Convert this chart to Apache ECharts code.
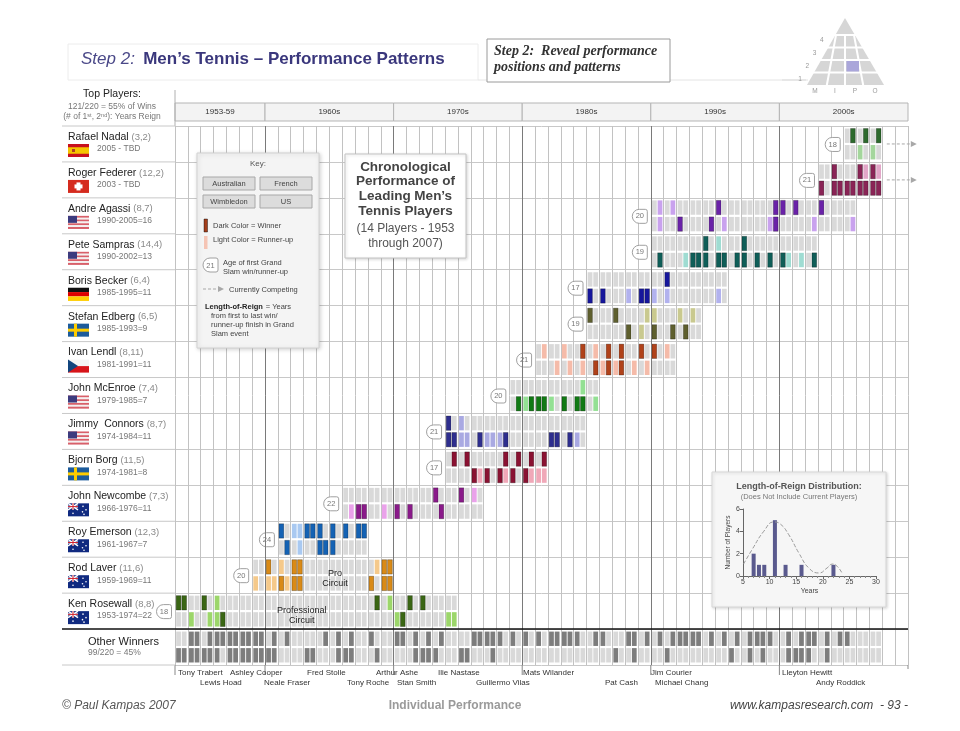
<!DOCTYPE html>
<html>
<head>
<meta charset="utf-8">
<script src="https://cdn.jsdelivr.net/npm/echarts@6/dist/echarts.min.js"></script>
<style>
html, body { margin: 0; padding: 0; background: #fff; }
#chart { width: 960px; height: 731px; }
</style>
</head>
<body>
<div id="chart"></div>
<script>
// players, top to bottom
var players = ['Rafael Nadal', 'Roger Federer', 'Andre Agassi', 'Pete Sampras', 'Boris Becker', 'Stefan Edberg', 'Ivan Lendl',
    'John McEnroe', 'Jimmy  Connors', 'Bjorn Borg', 'John Newcombe', 'Roy Emerson', 'Rod Laver', 'Ken Rosewall'];
var codes = ['NAD', 'FED', 'AGA', 'SAM', 'BEC', 'EDB', 'LEN', 'MCE', 'CON', 'BOR', 'NEW', 'EME', 'LAV', 'ROS'];
var tallies = ['(3,2)', '(12,2)', '(8,7)', '(14,4)', '(6,4)', '(6,5)', '(8,11)', '(7,4)', '(8,7)', '(11,5)', '(7,3)', '(12,3)', '(11,6)', '(8,8)'];
var reignText = ['2005 - TBD', '2003 - TBD', '1990-2005=16', '1990-2002=13', '1985-1995=11', '1985-1993=9', '1981-1991=11',
    '1979-1985=7', '1974-1984=11', '1974-1981=8', '1966-1976=11', '1961-1967=7', '1959-1969=11', '1953-1974=22'];
var reignStart = [2005, 2003, 1990, 1990, 1985, 1985, 1981, 1979, 1974, 1974, 1966, 1961, 1959, 1953];
var reignEnd = [2007, 2007, 2005, 2002, 1995, 1993, 1991, 1985, 1984, 1981, 1976, 1967, 1969, 1974];
var firstAge = [18, 21, 20, 19, 17, 19, 21, 20, 21, 17, 22, 24, 20, 18];
var flags = ['ES', 'CH', 'US', 'US', 'DE', 'SE', 'CZ', 'US', 'US', 'SE', 'AU', 'AU', 'AU', 'AU'];
var darkColors = ['#2d6a2d', '#8a2456', '#6a22a8', '#0f5e58', '#16169c', '#5e5f2e', '#b0421a',
    '#117a14', '#2e2e8e', '#8a1232', '#8a1a8a', '#1462b4', '#d98a16', '#3a6614'];
var lightColors = ['#a4d69c', '#e2a6c8', '#c9a2ee', '#9fdcd2', '#b2b2ee', '#c9c98f', '#f5bba9',
    '#93e093', '#a9a9e2', '#f0a8b8', '#eaa2ea', '#a9c9f1', '#f5c98a', '#9cd66a'];

// Grand Slam finals 1953-2007, "winner/runner-up" for Australian, French, Wimbledon, US ('-' = other player)
var finals = [
    'ROS/- ROS/- -/- -/-', '-/- -/- -/ROS -/-', 'ROS/- -/- -/- -/ROS', '-/ROS -/- -/ROS ROS/-',
    '-/- -/- -/- -/-', '-/- -/- -/- -/-', '-/- -/- -/LAV -/-',
    'LAV/- -/- -/LAV -/LAV', 'EME/LAV -/- LAV/- EME/LAV', 'LAV/EME LAV/EME LAV/- LAV/EME', 'EME/- EME/- -/- -/-',
    'EME/- -/- EME/- EME/-', 'EME/- -/- EME/- -/-', 'EME/- -/- -/- -/NEW', 'EME/- EME/- NEW/- NEW/-',
    '-/- ROS/LAV LAV/- -/-', 'LAV/- LAV/ROS LAV/NEW LAV/-',
    '-/- -/- NEW/ROS ROS/-', 'ROS/- -/- NEW/- -/-', 'ROS/- -/- -/- -/-', 'NEW/- -/- -/- NEW/-',
    'CON/- BOR/- CON/ROS CON/ROS', 'NEW/CON BOR/- -/CON -/CON', '-/NEW -/- BOR/- CON/BOR', '-/- -/- BOR/CON -/CON',
    '-/- BOR/- BOR/CON CON/BOR', '-/- BOR/- BOR/- MCE/-',
    '-/- BOR/- BOR/MCE MCE/BOR', '-/- BOR/LEN MCE/BOR MCE/BOR', '-/- -/- CON/MCE CON/LEN', '-/LEN -/- MCE/- CON/LEN',
    '-/- LEN/MCE MCE/CON MCE/LEN', 'EDB/- -/LEN BEC/- LEN/MCE', '-/- LEN/- BEC/LEN LEN/-', 'EDB/- LEN/- -/LEN LEN/-',
    '-/- -/- EDB/BEC -/LEN', 'LEN/- -/EDB BEC/EDB BEC/LEN',
    'LEN/EDB -/AGA EDB/BEC SAM/AGA', 'BEC/LEN -/AGA -/BEC EDB/-', '-/EDB -/- AGA/- EDB/SAM', '-/EDB -/- SAM/- SAM/-',
    'SAM/- -/- SAM/- AGA/-', 'AGA/SAM -/- SAM/BEC SAM/AGA', 'BEC/- -/- -/- SAM/-', 'SAM/- -/- SAM/- -/-',
    '-/- -/- SAM/- -/-', '-/- AGA/- SAM/AGA AGA/-',
    'AGA/- -/- SAM/- -/SAM', 'AGA/- -/- -/- -/SAM', '-/- -/- -/- SAM/AGA', 'AGA/- -/- FED/- -/-',
    'FED/- -/- FED/- FED/-', '-/- NAD/- FED/- FED/AGA', 'FED/- NAD/FED FED/NAD FED/-', 'FED/- NAD/FED FED/NAD FED/-'
];

var decadeStarts = [1953, 1960, 1970, 1980, 1990, 2000];
var decadeEnds = [1960, 1970, 1980, 1990, 2000, 2010];
var decadeLabels = ['1953-59', '1960s', '1970s', '1980s', '1990s', '2000s'];

// runner names under the "other winners" row
var otherNames = ['Tony Trabert', 'Lewis Hoad', 'Ashley Cooper', 'Neale Fraser', 'Fred Stolle', 'Tony Roche', 'Arthur Ashe', 'Stan Smith',
    'Ilie Nastase', 'Guillermo Vilas', 'Mats Wilander', 'Pat Cash', 'Jim Courier', 'Michael Chang', 'Lleyton Hewitt', 'Andy Roddick'];
var otherNameX = [178, 200, 230, 264, 307, 347, 376, 397, 438, 476, 523, 605, 651, 655, 782, 816];
var otherNameLine = [0, 1, 0, 1, 0, 1, 0, 1, 0, 1, 0, 1, 0, 1, 0, 1];

// length-of-reign histogram
var reignLengths = [7, 8, 9, 11, 13, 16, 22];
var reignCounts = [2, 1, 1, 5, 1, 1, 1];
var curveX = [5.1, 6.7, 8.9, 10.8, 12.0, 13.6, 15.5, 17.4, 19.3, 20.8, 21.8, 22.7, 23.6];
var curveY = [1.07, 2.36, 4.0, 4.84, 4.66, 3.7, 2.06, 0.7, 0.27, 0.72, 1.07, 0.87, 0.27];

var FONT = 'Liberation Sans, Arial, sans-serif';
var GRID_L = 175, GRID_T = 126, GRID_W = 733, GRID_H = 539;
var ROW_H = GRID_H / 15;

// build the cells
var cellData = [];
finals.forEach(function (line, i) {
    var yr = 1953 + i;
    line.split(' ').forEach(function (f, s) {
        var wr = f.split('/');
        for (var p = 0; p < codes.length; p++) {
            if (yr < reignStart[p] || yr > reignEnd[p]) continue;
            var st = wr[0] === codes[p] ? 1 : (wr[1] === codes[p] ? 2 : 0);
            cellData.push([yr, p, s, st]);
        }
        cellData.push([yr, 14, s, wr[0] === '-' ? 3 : 0]);
    });
});

function renderCell(params, api) {
    var yr = api.value(0), row = api.value(1), s = api.value(2), st = api.value(3);
    var x0 = yr + (s % 2 ? 0.53 : 0.09), y0 = row + (s < 2 ? 0.07 : 0.53);
    var a = api.coord([x0, y0]), b = api.coord([x0 + 0.37, y0 + 0.40]);
    var fill = '#d9d9d9', stroke = null;
    if (st === 1) { fill = darkColors[row]; stroke = 'rgba(0,0,0,0.45)'; }
    else if (st === 2) fill = lightColors[row];
    else if (st === 3) fill = '#7d7d7d';
    return {
        type: 'rect',
        shape: { x: a[0], y: a[1], width: b[0] - a[0], height: b[1] - a[1] },
        style: { fill: fill, stroke: stroke, lineWidth: 0.6 }
    };
}

function txt(x, y, text, size, color, align, extra) {
    var st = {
        text: text, fill: color || '#333', fontSize: size, fontFamily: FONT,
        align: align || 'center', verticalAlign: 'middle', textAlign: align || 'center', textVerticalAlign: 'middle'
    };
    for (var k in extra) st[k] = extra[k];
    return { type: 'text', x: x, y: y, style: st };
}

function renderDecade(params, api) {
    var a = api.coord([api.value(0), 0]), b = api.coord([api.value(1), 0]);
    var bot = api.coord([api.value(0), 15]);
    var kids = [
        { type: 'rect', shape: { x: a[0], y: a[1] - 23, width: b[0] - a[0], height: 18 },
          style: { fill: '#f3f3f3', stroke: '#b5b5b5', lineWidth: 1 } },
        txt((a[0] + b[0]) / 2, a[1] - 14, decadeLabels[params.dataIndex], 8, '#333'),
        { type: 'line', shape: { x1: a[0], y1: bot[1], x2: a[0], y2: bot[1] + 10 }, style: { stroke: '#888', lineWidth: 1 } }
    ];
    if (params.dataIndex === decadeStarts.length - 1) {
        kids.push({ type: 'line', shape: { x1: b[0], y1: bot[1], x2: b[0], y2: bot[1] + 4 }, style: { stroke: '#888', lineWidth: 1 } });
    }
    return { type: 'group', children: kids };
}

function renderBadge(params, api) {
    var c = api.coord([api.value(0), api.value(1) + 0.5]);
    return { type: 'group', children: [
        { type: 'rect', shape: { x: c[0] - 18.5, y: c[1] - 6.5, width: 15, height: 14, r: [7, 2, 2, 7] },
          style: { fill: '#fff', stroke: '#a0a0a0', lineWidth: 1 } },
        txt(c[0] - 11, c[1] + 0.5, String(api.value(2)), 7.5, '#777')
    ] };
}

function renderArrow(params, api) {
    var c = api.coord([api.value(0), api.value(1) + 0.5]);
    return { type: 'group', children: [
        { type: 'line', shape: { x1: c[0], y1: c[1], x2: c[0] + 24, y2: c[1] },
          style: { stroke: '#a8a8a8', lineWidth: 1, lineDash: [3, 2] } },
        { type: 'polygon', shape: { points: [[c[0] + 24, c[1] - 3], [c[0] + 30, c[1]], [c[0] + 24, c[1] + 3]] },
          style: { fill: '#a8a8a8' } }
    ] };
}

var overlayText = ['Professional\nCircuit', 'Pro\nCircuit'];
function renderOverlay(params, api) {
    var c = api.coord([api.value(0), api.value(1)]);
    return txt(c[0], c[1], overlayText[params.dataIndex], 9, '#222', 'center', { lineHeight: 10 });
}

// ---- graphic helpers ----
var g = [];
function T(x, y, text, o) {
    o = o || {};
    var el = txt(x, y, text, o.size || 10, o.color || '#333', o.align || 'left', o.extra || {});
    el.style.fontWeight = o.weight || 'normal';
    el.style.fontStyle = o.style || 'normal';
    if (o.family) el.style.fontFamily = o.family;
    el.z = o.z || 11;
    el.silent = true;
    return el;
}
function R(x, y, w, h, fill, stroke, z, extra) {
    var st = { fill: fill, stroke: stroke || null, lineWidth: 1 };
    for (var k in extra) st[k] = extra[k];
    return { type: 'rect', shape: { x: x, y: y, width: w, height: h }, style: st, z: z || 11, silent: true };
}
function L(x1, y1, x2, y2, color, w, z, dash) {
    return { type: 'line', shape: { x1: x1, y1: y1, x2: x2, y2: y2 },
        style: { stroke: color, lineWidth: w || 1, lineDash: dash || null }, z: z || 11, silent: true };
}
function flag(c, x, y) {
    var w = 21, h = 13, els = [];
    function r(x0, y0, w0, h0, f) { els.push(R(x + x0, y + y0, w0, h0, f)); }
    if (c === 'ES') { r(0, 0, w, h, '#c8101e'); r(0, 3.25, w, 6.5, '#f5c400'); r(4, 5, 3, 3, '#b04020'); }
    if (c === 'CH') { r(0, 0, w, h, '#d52b1e'); r(8.5, 2.5, 4, 8, '#fff'); r(6.5, 4.5, 8, 4, '#fff'); }
    if (c === 'US') {
        for (var i = 0; i < 7; i++) r(0, i * h / 7, w, h / 7 + 0.1, i % 2 ? '#f4f0f0' : '#d8606a');
        r(0, 0, 9, 7, '#3c3b7e');
    }
    if (c === 'DE') { r(0, 0, w, h / 3, '#111'); r(0, h / 3, w, h / 3, '#dd0000'); r(0, 2 * h / 3, w, h / 3 + 0.2, '#ffce00'); }
    if (c === 'SE') { r(0, 0, w, h, '#1d5c9c'); r(6, 0, 3, h, '#fecc00'); r(0, 5, w, 3, '#fecc00'); }
    if (c === 'CZ') {
        r(0, 0, w, h / 2, '#f4f4f4'); r(0, h / 2, w, h / 2, '#d7141a');
        els.push({ type: 'polygon', shape: { points: [[x, y], [x + 10, y + h / 2], [x, y + h]] }, style: { fill: '#11457e' }, z: 11, silent: true });
    }
    if (c === 'AU') {
        r(0, 0, w, h, '#102a80');
        els.push(L(x, y, x + 10, y + 6.5, '#fff', 1.5)); els.push(L(x + 10, y, x, y + 6.5, '#fff', 1.5));
        r(4, 0, 2, 6.5, '#fff'); r(0, 2.25, 10, 2, '#fff');
        r(4.5, 0, 1, 6.5, '#d0202b'); r(0, 2.75, 10, 1, '#d0202b');
        [[5, 10], [15, 3], [18, 6.5], [14.5, 8.5], [16, 11]].forEach(function (p) {
            els.push({ type: 'circle', shape: { cx: x + p[0], cy: y + p[1], r: 0.8 }, style: { fill: '#fff' }, z: 11, silent: true });
        });
    }
    return els;
}

// title area
g.push(R(68, 44, 410, 36, '#fff', '#ececec', 5));
g.push(L(478, 80, 808, 80, '#e4e4e4', 1, 5));
g.push(T(81, 59, '{a|Step 2:}   {b|Men\u2019s Tennis \u2013 Performance Patterns}', {
    extra: { rich: {
        a: { fontSize: 17, fontStyle: 'italic', fill: '#4a4888', color: '#4a4888', fontFamily: FONT },
        b: { fontSize: 17, fontWeight: 'bold', fill: '#3a377c', color: '#3a377c', fontFamily: FONT }
    } }
}));
g.push(R(487, 39, 183, 43, '#fff', '#9a9a9a', 6));
g.push(T(494, 51, 'Step 2:  Reveal performance', { size: 14, weight: 'bold', style: 'italic', color: '#333', family: 'Liberation Serif, Times New Roman, serif' }));
g.push(T(494, 67, 'positions and patterns', { size: 14, weight: 'bold', style: 'italic', color: '#333', family: 'Liberation Serif, Times New Roman, serif' }));

// pyramid logo
g.push({ type: 'polygon', shape: { points: [[845, 18], [807, 85], [884, 85]] }, style: { fill: '#d6d6d6' }, z: 5, silent: true });
[35, 47.5, 60, 72.5].forEach(function (y) { g.push(L(800, y, 890, y, '#fff', 2, 6)); });
g.push(L(845, 35, 845, 87, '#fff', 2, 6));
g.push(L(836, 35, 826.5, 87, '#fff', 2, 6));
g.push(L(854, 35, 863.5, 87, '#fff', 2, 6));
g.push(R(846.5, 61, 12.5, 10.5, '#aaa6da', null, 7));
g.push(L(782, 80, 806, 80, '#ddd', 1, 6));
['1', '2', '3', '4'].forEach(function (t, i) { g.push(T(800 + i * 7.3, 79 - i * 13, t, { size: 6.5, color: '#999', align: 'center' })); });
['M', 'I', 'P', 'O'].forEach(function (t, i) { g.push(T([815, 835, 855, 875][i], 91, t, { size: 6.5, color: '#999', align: 'center' })); });

// left header
g.push(L(175, 90, 175, 126, '#b0b0b0', 1, 5));
g.push(T(112, 94, 'Top Players:', { size: 10.5, color: '#222', align: 'center' }));
g.push(T(112, 107, '121/220 = 55% of Wins', { size: 8.5, color: '#777', align: 'center' }));
g.push(T(112, 117, '{t|(# of 1}{s|st}{t|, 2}{s|nd}{t|): Years Reign}', { align: 'center', extra: { rich: {
    t: { fontSize: 8.5, fill: '#777', color: '#777', fontFamily: FONT },
    s: { fontSize: 5.5, fill: '#777', color: '#777', fontFamily: FONT, verticalAlign: 'top', padding: [0, 0, 4, 0] }
} } }));

// player labels
players.forEach(function (name, p) {
    var top = GRID_T + p * ROW_H;
    g.push(T(68, top + 11, '{n|' + name + '} {c|' + tallies[p] + '}', { extra: { rich: {
        n: { fontSize: 10.5, fill: '#222', color: '#222', fontFamily: FONT },
        c: { fontSize: 9.5, fill: '#8a8a8a', color: '#8a8a8a', fontFamily: FONT }
    } } }));
    g = g.concat(flag(flags[p], 68, top + 18));
    g.push(T(97, top + 23, reignText[p], { size: 8.5, color: '#777' }));
});
for (var i = 0; i <= 15; i++) {
    var yy = GRID_T + i * ROW_H;
    if (i === 14) g.push(L(62, yy, GRID_L + GRID_W, yy, '#111', 1.6, 12));
    else g.push(L(62, yy, GRID_L, yy, '#c8c8c8', 1, 5));
}
g.push(T(88, GRID_T + 14 * ROW_H + 13, 'Other Winners', { size: 11, color: '#222' }));
g.push(T(88, GRID_T + 14 * ROW_H + 24, '99/220 = 45%', { size: 8.5, color: '#777' }));

// names of other winners
otherNames.forEach(function (n, i) {
    g.push(T(otherNameX[i], 673 + otherNameLine[i] * 10, n, { size: 8, color: '#333' }));
});

// key box
g.push(R(197, 153, 122, 195, '#f4f4f4', '#d2d2d2', 10, { shadowBlur: 4, shadowColor: 'rgba(0,0,0,0.18)', shadowOffsetX: 1, shadowOffsetY: 1 }));
g.push(T(258, 164, 'Key:', { size: 8, color: '#555', align: 'center' }));
[['Australian', 203, 177], ['French', 260, 177], ['Wimbledon', 203, 195], ['US', 260, 195]].forEach(function (k) {
    g.push(R(k[1], k[2], 52, 13, '#dcdcdc', '#a8a8a8', 11));
    g.push(T(k[1] + 26, k[2] + 6.5, k[0], { size: 7.5, color: '#444', align: 'center' }));
});
g.push(R(204, 219, 3.5, 13, '#a33e1b', 'rgba(0,0,0,0.4)', 11));
g.push(T(213, 226, 'Dark Color = Winner', { size: 7.5, color: '#444' }));
g.push(R(204, 236, 3.5, 13, '#f5c4b4', null, 11));
g.push(T(213, 240, 'Light Color = Runner-up', { size: 7.5, color: '#444' }));
g.push({ type: 'rect', shape: { x: 203, y: 258, width: 15, height: 14, r: [7, 2, 2, 7] }, style: { fill: '#fff', stroke: '#a0a0a0' }, z: 11, silent: true });
g.push(T(210.5, 265.5, '21', { size: 7.5, color: '#777', align: 'center' }));
g.push(T(223, 263, 'Age of first Grand', { size: 7.5, color: '#444' }));
g.push(T(223, 272, 'Slam win/runner-up', { size: 7.5, color: '#444' }));
g.push(L(203, 289, 218, 289, '#a8a8a8', 1, 11, [3, 2]));
g.push({ type: 'polygon', shape: { points: [[218, 286], [224, 289], [218, 292]] }, style: { fill: '#a8a8a8' }, z: 11, silent: true });
g.push(T(229, 290, 'Currently Competing', { size: 7.5, color: '#444' }));
g.push(T(205, 307, '{b|Length-of-Reign} {t|= Years}', { extra: { rich: {
    b: { fontSize: 7.5, fontWeight: 'bold', fill: '#222', color: '#222', fontFamily: FONT },
    t: { fontSize: 7.5, fill: '#444', color: '#444', fontFamily: FONT }
} } }));
g.push(T(211, 316, 'from first to last win/', { size: 7.5, color: '#444' }));
g.push(T(211, 325, 'runner-up finish in Grand', { size: 7.5, color: '#444' }));
g.push(T(211, 334, 'Slam event', { size: 7.5, color: '#444' }));

// center title box
g.push(R(345, 154, 121, 104, '#fff', '#c4c4c4', 10, { shadowBlur: 3, shadowColor: 'rgba(0,0,0,0.15)', shadowOffsetX: 1, shadowOffsetY: 1 }));
['Chronological', 'Performance of', 'Leading Men\u2019s', 'Tennis Players'].forEach(function (t, i) {
    g.push(T(405.5, 167 + i * 14.6, t, { size: 13.5, weight: 'bold', color: '#444', align: 'center' }));
});
g.push(T(405.5, 229, '(14 Players - 1953', { size: 12, color: '#555', align: 'center' }));
g.push(T(405.5, 244, 'through 2007)', { size: 12, color: '#555', align: 'center' }));

// histogram box
g.push(R(712, 472, 174, 135, '#f6f6f6', '#d8d8d8', 10, { shadowBlur: 3, shadowColor: 'rgba(0,0,0,0.15)', shadowOffsetX: 1, shadowOffsetY: 1 }));
g.push(T(799, 487, 'Length-of-Reign Distribution:', { size: 9, weight: 'bold', color: '#555', align: 'center' }));
g.push(T(799, 496.5, '(Does Not Include Current Players)', { size: 7.5, color: '#777', align: 'center' }));

// footer
g.push(T(62, 706, '\u00a9 Paul Kampas 2007', { size: 12, style: 'italic', color: '#555' }));
g.push(T(455, 706, 'Individual Performance', { size: 12, weight: 'bold', color: '#9a9a9a', align: 'center' }));
g.push(T(908, 706, 'www.kampasresearch.com  - 93 -', { size: 12, style: 'italic', color: '#444', align: 'right' }));

var chart = echarts.init(document.getElementById('chart'));
var option = {
    animation: false,
    backgroundColor: '#fff',
    graphic: { elements: g },
    grid: [
        { left: GRID_L, top: GRID_T, width: GRID_W, height: GRID_H },
        { left: 743, top: 509, width: 133, height: 67 }
    ],
    xAxis: [
        { type: 'value', gridIndex: 0, min: 1953, max: 2010, interval: 1,
          axisLine: { show: false }, axisTick: { show: false }, axisLabel: { show: false },
          splitLine: { show: true, lineStyle: { color: '#c2c2c2', width: 1 } } },
        { type: 'value', gridIndex: 1, min: 5, max: 30, interval: 5, z: 12,
          axisLine: { show: true, lineStyle: { color: '#666' } },
          axisTick: { show: true, length: 3, lineStyle: { color: '#666' } },
          minorTick: { show: true, splitNumber: 5, length: 2, lineStyle: { color: '#888' } },
          axisLabel: { fontSize: 7, color: '#444', margin: 3, fontFamily: FONT },
          splitLine: { show: false },
          name: 'Years', nameLocation: 'middle', nameGap: 12, nameTextStyle: { fontSize: 7, color: '#444', fontFamily: FONT } }
    ],
    yAxis: [
        { type: 'value', gridIndex: 0, min: 0, max: 15, interval: 1, inverse: true,
          axisLine: { show: false }, axisTick: { show: false }, axisLabel: { show: false },
          splitLine: { show: true, lineStyle: { color: '#c8c8c8', width: 1 } } },
        { type: 'value', gridIndex: 1, min: 0, max: 6, interval: 2, z: 12,
          axisLine: { show: true, lineStyle: { color: '#666' } },
          axisTick: { show: true, length: 3, lineStyle: { color: '#666' } },
          axisLabel: { fontSize: 7, color: '#444', margin: 3, fontFamily: FONT },
          splitLine: { show: false },
          name: 'Number of Players', nameLocation: 'middle', nameGap: 11, nameRotate: 90,
          nameTextStyle: { fontSize: 6.5, color: '#444', fontFamily: FONT } }
    ],
    series: [
        {
            name: 'decade lines', type: 'line', xAxisIndex: 0, yAxisIndex: 0, data: [], z: 1, silent: true,
            markLine: {
                silent: true, symbol: ['none', 'none'], label: { show: false }, animation: false,
                lineStyle: { color: '#7a7a7a', width: 1, type: 'solid' },
                data: decadeStarts.slice(1).map(function (d) { return { xAxis: d }; })
            }
        },
        {
            name: 'cells', type: 'custom', xAxisIndex: 0, yAxisIndex: 0, z: 2, silent: true,
            renderItem: renderCell, encode: { x: 0, y: 1 }, data: cellData
        },
        {
            name: 'decades', type: 'custom', xAxisIndex: 0, yAxisIndex: 0, z: 3, silent: true, clip: false,
            renderItem: renderDecade, encode: { x: [0, 1] },
            data: decadeStarts.map(function (d, i) { return [d, decadeEnds[i]]; })
        },
        {
            name: 'first age', type: 'custom', xAxisIndex: 0, yAxisIndex: 0, z: 3, silent: true, clip: false,
            renderItem: renderBadge, encode: { x: 0, y: 1 },
            data: reignStart.map(function (y, p) { return [y, p, firstAge[p]]; })
        },
        {
            name: 'competing', type: 'custom', xAxisIndex: 0, yAxisIndex: 0, z: 3, silent: true, clip: false,
            renderItem: renderArrow, encode: { x: 0, y: 1 },
            data: [[2008.35, 0], [2008.35, 1]]
        },
        {
            name: 'pro', type: 'custom', xAxisIndex: 0, yAxisIndex: 0, z: 4, silent: true, clip: false,
            renderItem: renderOverlay, encode: { x: 0, y: 1 },
            data: [[1962.85, 13.63], [1965.45, 12.58]]
        },
        {
            name: 'reign', type: 'bar', xAxisIndex: 1, yAxisIndex: 1, z: 12, barWidth: 4, silent: true,
            itemStyle: { color: '#5a5a8e' },
            data: reignLengths.map(function (l, i) { return [l, reignCounts[i]]; })
        },
        {
            name: 'fit', type: 'line', xAxisIndex: 1, yAxisIndex: 1, z: 12, smooth: true, symbol: 'none', silent: true,
            lineStyle: { color: '#9a9a9a', width: 1, type: 'dashed' },
            data: curveX.map(function (x, i) { return [x, curveY[i]]; })
        }
    ]
};
chart.setOption(option);
</script>
</body>
</html>
